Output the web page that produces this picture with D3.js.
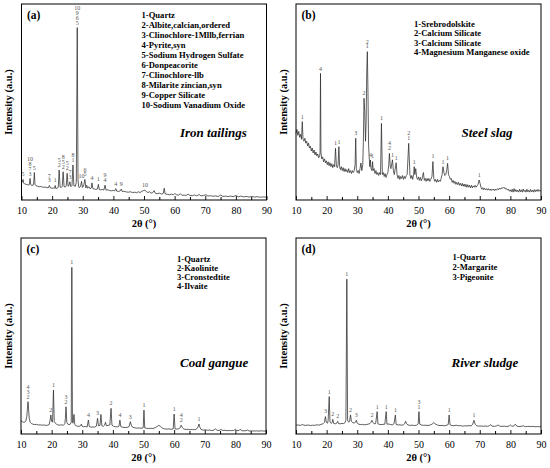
<!DOCTYPE html>
<html>
<head>
<meta charset="utf-8">
<script src="https://cdn.jsdelivr.net/npm/d3@7"></script>
<style>
body { margin: 0; background: #fff; }
text { font-family: "Liberation Serif", "Times New Roman", serif; fill: #000; }
</style>
</head>
<body>
<div class="canvas"></div>
<script>
// 2theta ticks
const majorTicks = [10, 20, 30, 40, 50, 60, 70, 80, 90];
const minorTicks = [15, 25, 35, 45, 55, 65, 75, 85];

// (a) iron tailings : [2theta, intensity]
const ironTailings = [[10,8.8],[10.3,9.2],[10.5,10.5],[10.7,8.6],[11,8.3],[11.5,8.0],[12,7.8],[12.4,7.6],[12.6,8.2],[12.8,11],[13,7.8],[13.4,7.4],[13.8,7.6],[14.0,9],[14.2,14],[14.4,8],[14.8,7.2],[15.3,7.0],[15.8,6.8],[16.3,6.9],[16.8,6.6],[17.3,6.5],[17.8,6.6],[18.3,6.3],[18.8,6.3],[19.1,7.4],[19.4,6.2],[20,6.0],[20.5,6.1],[20.8,6.0],[21.0,7.4],[21.2,5.9],[21.6,6.0],[22.0,6.4],[22.3,15.3],[22.6,6.6],[23.0,6.4],[23.3,7],[23.6,14.4],[23.9,6.8],[24.3,6.6],[24.6,7.2],[24.9,13.6],[25.2,7.0],[25.5,7.4],[25.8,9.3],[26.1,6.8],[26.5,7.5],[26.8,17.9],[27.1,7.2],[27.6,7.0],[27.9,9],[28.2,88],[28.45,10],[28.7,6.5],[29.0,6.4],[29.3,7],[29.6,9.5],[29.9,6.4],[30.2,7],[30.4,8],[30.7,10.5],[31.0,6.2],[31.3,7.5],[31.6,6.0],[32.0,6.8],[32.4,5.7],[32.8,6.2],[33.0,8.7],[33.3,5.8],[33.8,5.6],[34.3,5.4],[34.8,5.6],[35.1,8.0],[35.4,5.3],[35.9,5.2],[36.4,5.4],[36.9,5.1],[37.3,7.6],[37.6,5.0],[38.2,5.2],[38.8,4.8],[39.4,4.7],[40.0,4.9],[40.4,4.6],[40.8,5.8],[41.1,4.5],[41.7,4.4],[42.2,4.6],[42.6,5.6],[42.9,4.3],[43.5,4.5],[44.2,4.1],[45.0,4.0],[45.6,4.2],[46.3,3.8],[47.0,4.0],[47.6,3.7],[48.2,4.2],[48.7,3.8],[49.3,4.4],[49.8,4.8],[50.3,5.0],[50.8,4.3],[51.3,3.8],[51.8,4.2],[52.3,3.5],[52.8,3.7],[53.3,4.8],[53.7,3.4],[54.3,3.2],[55.0,3.5],[55.8,3.0],[56.3,3.4],[56.6,6.0],[56.9,3.1],[57.6,2.9],[58.3,2.7],[59.0,3.0],[59.6,2.6],[60.1,3.4],[60.6,2.6],[61.3,2.5],[61.9,3.2],[62.4,2.4],[63.1,2.5],[63.8,2.3],[64.4,3.0],[65.0,2.3],[65.8,2.2],[66.5,2.6],[67.2,2.1],[68.0,2.8],[68.6,2.1],[69.4,2.3],[70.2,2.7],[70.9,2.0],[71.7,2.2],[72.5,1.9],[73.3,2.1],[74.2,1.8],[75.0,2.5],[75.8,1.8],[76.7,2.0],[77.5,1.7],[78.3,2.0],[79.1,1.7],[80.0,2.3],[80.8,1.6],[81.6,2.0],[82.5,1.6],[83.4,1.8],[84.3,1.5],[85.2,1.8],[86.1,1.5],[87.0,1.7],[88.0,1.4],[89.0,1.6],[90,1.4]];
const ironPeaks = [[10.5,12,"5"],[12.8,12.5,"10,8,7,3"],[14.2,15.5,"5"],[19.1,9,"7,3"],[21.0,9,"1"],[22.3,16.8,"5,2"],[23.6,16,"8,5,2"],[24.9,15.2,"5,2"],[25.8,10.8,"7,3"],[26.8,19.4,"8,1"],[28.2,89.5,"10,9,6,5"],[29.6,11,"10"],[30.7,12,"6,5"],[33.0,10.2,"4"],[35.1,9.5,"1"],[37.3,9.1,"9,4"],[40.8,7.3,"4"],[42.6,7.1,"9"],[50.3,6.5,"10"]];
const ironLegend = ["1-Quartz", "2-Albite,calcian,ordered", "3-Clinochlore-1Mllb,ferrian", "4-Pyrite,syn", "5-Sodium Hydrogen Sulfate", "6-Donpeacorite", "7-Clinochlore-llb", "8-Milarite zincian,syn", "9-Copper Silicate", "10-Sodium Vanadium Oxide"];

// (b) steel slag
const steelSlag = [[10,34],[10.3,36],[10.6,33],[10.9,35],[11.2,32],[11.5,33.5],[11.8,31],[12.05,40],[12.3,31],[12.6,30],[12.9,31.5],[13.2,29],[13.5,30],[13.8,27.5],[14.1,29],[14.4,26.5],[14.7,27.5],[15.0,25],[15.3,26.5],[15.6,24],[15.9,25.5],[16.2,23],[16.5,24.5],[16.8,22.5],[17.1,23.5],[17.4,21.5],[17.7,22.5],[17.85,24],[18.0,64.6],[18.15,24],[18.4,21],[18.7,22],[19.0,19.5],[19.3,21],[19.6,19],[19.9,20],[20.2,18],[20.5,19.5],[20.8,17.5],[21.1,19],[21.4,17],[21.7,18.5],[22.0,16.5],[22.3,18],[22.6,17],[22.9,26.4],[23.2,17],[23.5,16.5],[23.75,18],[24.0,27.2],[24.25,17],[24.5,15.5],[24.8,17],[25.1,15],[25.4,16.5],[25.7,14.5],[26.0,16],[26.3,14.5],[26.6,15.5],[26.9,14],[27.2,16],[27.5,14],[27.8,15],[28.1,13.5],[28.4,15],[28.7,14],[29.0,15],[29.3,18],[29.5,31.5],[29.7,16],[30.0,14],[30.3,15],[30.6,13.5],[30.9,16],[31.2,18.9],[31.5,15],[31.8,18],[32.0,30],[32.2,51.9],[32.45,45],[32.7,30],[32.9,40],[33.1,65],[33.3,75.7],[33.5,55],[33.7,28],[33.9,22],[34.1,17],[34.3,20.4],[34.5,16],[34.8,15],[35.0,19.6],[35.2,15],[35.5,16],[35.8,13.5],[36.1,15],[36.4,13],[36.7,14],[37.0,12.5],[37.3,14],[37.6,13],[37.9,39.1],[38.2,13],[38.5,14],[38.8,12],[39.1,13.5],[39.4,11.5],[39.7,13],[40.0,14],[40.3,18],[40.5,23.8],[40.8,17],[41.0,16],[41.5,20.5],[41.8,15],[42.1,13],[42.4,16],[42.7,19],[43.0,13],[43.3,11],[43.6,12.5],[43.9,10.5],[44.2,12],[44.5,11],[44.8,12.5],[45.1,10.5],[45.4,12],[45.7,11],[46.0,12.5],[46.3,13],[46.8,28.9],[47.2,13],[47.5,11],[47.8,12.5],[48.1,10.5],[48.4,13],[48.6,17],[48.8,13],[49.1,16],[49.4,11.5],[49.7,10.5],[50.0,11.8],[50.3,10],[50.6,11.5],[50.9,9.8],[51.2,11],[51.6,14],[51.9,10],[52.2,11],[52.5,9.5],[52.8,11],[53.1,9.8],[53.4,11],[53.7,9.5],[54.0,10.5],[54.4,12],[54.7,19.6],[55.0,11],[55.3,9.5],[55.6,10.5],[55.9,9],[56.2,10.5],[56.5,9.2],[56.8,10],[57.1,9.5],[57.4,11],[57.7,13],[58.0,17],[58.3,14],[58.6,12.5],[58.9,13],[59.2,15],[59.5,18.7],[59.8,13],[60.1,12],[60.4,10.5],[60.7,11],[61.0,9],[61.3,10],[61.6,8.5],[61.9,9.5],[62.2,8],[62.5,9],[62.8,7.8],[63.1,9],[63.4,7.5],[63.7,8.5],[64.0,7.2],[64.3,8.5],[64.6,7],[64.9,8.2],[65.2,6.8],[65.5,8],[65.8,6.5],[66.1,7.8],[66.4,6.5],[66.7,7.5],[67.0,6.2],[67.3,7.5],[67.6,6.2],[67.9,7.2],[68.2,6.5],[68.5,7.5],[68.8,6.5],[69.1,7.2],[69.4,7.8],[69.8,10.2],[70.1,8.5],[70.4,6.5],[70.7,5.5],[71.0,6.3],[71.3,5.2],[71.6,6],[71.9,5.2],[72.2,5.8],[72.5,5],[72.8,5.8],[73.1,5],[73.4,5.6],[73.7,4.8],[74.0,5.5],[74.3,5],[74.6,5.6],[74.9,4.8],[75.2,5.5],[75.5,5],[75.8,5.8],[76.1,5.2],[76.4,6],[76.7,5.5],[77.0,6.2],[77.3,5.8],[77.6,6.5],[77.9,6],[78.2,6.3],[78.5,5.5],[78.8,5.8],[79.1,5],[79.4,5.5],[79.7,4.5],[80.0,5.2],[80.3,4.2],[80.6,5.5],[80.9,4],[81.2,5.8],[81.5,4.3],[81.8,5.3],[82.1,4.2],[82.4,5],[82.7,4],[83.0,5.5],[83.3,4.2],[83.6,5.2],[83.9,4],[84.2,5.6],[84.5,4.3],[84.8,5],[85.1,4],[85.4,5.5],[85.7,4.2],[86.0,5],[86.3,4],[86.6,5.4],[86.9,4.2],[87.2,5],[87.5,4],[87.8,5.3],[88.1,4.2],[88.4,5.2],[88.7,4.4],[89.0,5.4],[89.3,4.4],[89.6,5],[90,4.6]];
const slagPeaks = [[12.05,41.5,"1"],[18.0,66,"4"],[22.9,28,"1"],[24.0,28.8,"1"],[29.5,33,"3"],[32.2,53.5,"2"],[33.3,77.3,"2,1"],[34.3,22,"4"],[35.0,21.2,"1"],[37.9,40.7,"1"],[40.5,25.4,"4,2"],[41.5,22,"1"],[42.7,20.6,"1"],[46.8,30.5,"2,1"],[48.6,18.6,"1"],[54.7,21.2,"1"],[58.0,18.6,"1"],[59.5,20.3,"1"],[69.8,11.8,"1"]];
const slagLegend = ["1-Srebrodolskite", "2-Calcium Silicate", "3-Calcium Silicate", "4-Magnesium Manganese oxide"];

// (c) coal gangue
const coalGangue = [[10,6.8],[10.4,6.3],[10.8,6.0],[11.2,6.0],[11.6,6.8],[11.9,9],[12.1,13],[12.3,16.5],[12.5,12],[12.7,8],[13.0,6.0],[13.4,5.3],[13.9,5.0],[14.5,4.8],[15.1,4.9],[15.7,4.6],[16.3,4.7],[16.9,4.5],[17.5,4.6],[18.1,4.4],[18.7,4.5],[19.2,4.8],[19.5,7],[19.75,9.7],[20.0,6.5],[20.3,6],[20.6,22.4],[20.85,6.5],[21.2,5.5],[21.6,5.0],[22.0,4.7],[22.6,4.5],[23.2,4.7],[23.8,4.4],[24.3,5.2],[24.5,8],[24.7,13.9],[24.95,6],[25.3,5],[25.7,4.8],[26.1,5.0],[26.4,6],[26.6,85],[26.8,6],[27.0,5.5],[27.3,10],[27.55,5],[27.9,4.2],[28.4,4.0],[29.0,3.9],[29.5,4.3],[29.7,5],[29.9,4.0],[30.4,3.7],[31.0,3.8],[31.6,3.6],[32.0,7.1],[32.3,3.8],[32.8,3.5],[33.4,3.6],[34.0,3.5],[34.6,4.0],[35.0,8],[35.3,4.2],[35.8,4.4],[36.1,10],[36.4,4.2],[36.9,3.9],[37.3,4.5],[37.6,6],[37.9,4.2],[38.4,4.4],[39.0,4.6],[39.4,13.1],[39.7,4.5],[40.2,4.0],[40.8,3.7],[41.4,3.6],[42.0,4.0],[42.3,7.1],[42.6,3.8],[43.3,3.4],[44.0,3.3],[44.7,3.4],[45.3,3.8],[45.7,6.3],[46.0,4.5],[46.4,3.5],[47.1,3.2],[47.8,3.0],[48.5,3.1],[49.2,2.9],[49.9,3.2],[50.15,12.2],[50.4,3.1],[51.0,2.9],[51.7,2.8],[52.4,2.9],[53.1,2.8],[53.8,3.2],[54.4,3.8],[55.0,4.4],[55.6,3.8],[56.2,3.0],[56.9,2.6],[57.6,2.5],[58.3,2.6],[59.0,2.4],[59.7,2.6],[60.0,10.2],[60.3,2.6],[60.9,2.5],[61.5,2.7],[62.0,3.2],[62.3,4.5],[62.7,3.2],[63.2,2.5],[63.9,2.3],[64.6,2.4],[65.3,2.2],[66.0,2.3],[66.7,2.2],[67.3,2.5],[67.8,3.5],[68.1,5.1],[68.4,3.5],[68.8,2.3],[69.5,2.0],[70.2,2.1],[70.9,1.9],[71.6,2.0],[72.3,1.8],[73.0,2.0],[73.5,2.6],[74.0,1.9],[74.7,1.8],[75.3,2.3],[75.9,1.8],[76.6,1.9],[77.3,1.7],[78.0,1.8],[78.7,1.7],[79.4,1.8],[80.0,2.4],[80.5,1.7],[81.2,1.8],[81.6,2.5],[82.0,1.7],[82.8,1.6],[83.5,1.7],[84.0,2.0],[84.5,1.5],[85.3,1.6],[86.1,1.5],[86.9,1.6],[87.7,1.5],[88.5,1.6],[89.3,1.5],[90,1.5]];
const gangPeaks = [[12.3,18,"4,3,2"],[19.75,11.2,"2"],[20.6,24,"1"],[24.7,15.5,"3,2"],[26.6,86.5,"1"],[32.0,8.6,"4"],[35.0,9.5,"3"],[39.4,14.6,"2"],[42.3,8.6,"4"],[45.7,7.8,"3"],[50.15,13.7,"1"],[60.0,11.7,"1"],[62.3,6.2,"4,2"],[68.1,6.6,"1"]];
const gangLegend = ["1-Quartz", "2-Kaolinite", "3-Cronstedtite", "4-Ilvaite"];

// (d) river sludge
const riverSludge = [[10,4.5],[10.7,4.6],[11.4,4.4],[12.1,4.8],[12.6,4.5],[13.3,4.4],[14.0,4.6],[14.7,4.3],[15.4,4.5],[16.1,4.4],[16.8,4.7],[17.5,4.5],[18.2,4.9],[18.8,5.2],[19.3,6],[19.6,8.9],[19.9,6],[20.3,5.5],[20.5,7],[20.85,19.1],[21.1,6],[21.5,5.4],[21.8,5.8],[22.0,7.5],[22.3,5.4],[22.8,5.2],[23.3,5.5],[23.6,6.5],[23.9,5.3],[24.4,5.2],[25.0,5.4],[25.5,5.3],[26.0,5.8],[26.3,7],[26.6,79],[26.85,7],[27.2,6],[27.5,6.5],[27.8,9.7],[28.1,6.5],[28.5,5.8],[29.0,5.6],[29.4,6],[29.7,7],[30.0,5.5],[30.5,5.0],[31.1,4.8],[31.7,4.9],[32.3,4.7],[32.9,4.8],[33.5,5.0],[34.1,5.3],[34.5,6],[34.8,7],[35.1,6],[35.5,5.2],[36.0,5.3],[36.5,11.4],[36.75,5.2],[37.2,4.9],[37.8,4.8],[38.4,4.9],[39.0,5.0],[39.45,11.4],[39.7,5.0],[40.3,5.1],[40.9,4.8],[41.5,4.7],[42.0,5.2],[42.45,9.7],[42.7,4.9],[43.3,4.6],[43.9,4.7],[44.5,4.5],[45.1,4.7],[45.5,5.3],[45.8,6.5],[46.1,5.2],[46.6,4.6],[47.3,4.4],[48.0,4.5],[48.7,4.3],[49.4,4.5],[49.9,5.2],[50.15,11.4],[50.4,5],[51.0,4.6],[51.7,4.4],[52.4,4.5],[53.1,4.3],[53.8,4.6],[54.4,5.0],[55.0,5.8],[55.6,5.0],[56.3,4.5],[57.0,4.3],[57.7,4.4],[58.4,4.2],[59.1,4.4],[59.7,4.8],[60.0,9.7],[60.3,4.7],[60.9,4.3],[61.6,4.2],[62.3,4.5],[63.0,4.2],[63.7,4.3],[64.4,4.0],[65.1,4.2],[65.8,4.1],[66.5,4.3],[67.2,4.1],[67.7,5],[68.1,7],[68.5,5],[69.0,4.2],[69.7,4.0],[70.4,4.1],[71.1,3.9],[71.8,4.1],[72.5,3.9],[73.2,4.3],[73.6,4.8],[74.0,4.0],[74.8,3.9],[75.5,4.1],[76.0,4.6],[76.5,4.0],[77.3,3.9],[78.1,4.0],[78.9,3.8],[79.6,4.1],[80.0,4.6],[80.5,3.9],[81.2,4.2],[81.6,5],[82.1,4.0],[82.8,3.8],[83.5,3.9],[84.2,4.2],[84.9,3.7],[85.7,3.9],[86.5,3.8],[87.3,3.9],[88.1,3.7],[88.9,3.8],[89.5,3.7],[90,3.8]];
const sludgePeaks = [[19.6,10.5,"3"],[20.85,20.6,"1"],[22.0,9,"2"],[23.6,8,"2"],[26.6,80.5,"1"],[27.8,11.2,"2"],[29.7,8.5,"3"],[34.8,8.5,"2"],[36.5,12.9,"1"],[39.45,12.9,"1"],[42.45,11.2,"1"],[50.15,12.9,"3,1"],[60.0,11.2,"1"],[68.1,8.5,"1"]];
const sludgeLegend = ["1-Quartz", "2-Margarite", "3-Pigeonite"];

const panels = [
    {tag: '(a)', name: 'Iron tailings', data: ironTailings, peaks: ironPeaks, legend: ironLegend,
     left: 21.5, top: 4, legX: 141.5, legY: 17.5, legStep: 10, nameX: 180, nameY: 137},
    {tag: '(b)', name: 'Steel slag', data: steelSlag, peaks: slagPeaks, legend: slagLegend,
     left: 296, top: 4, legX: 414, legY: 27, legStep: 9.4, nameX: 461.5, nameY: 137},
    {tag: '(c)', name: 'Coal gangue', data: coalGangue, peaks: gangPeaks, legend: gangLegend,
     left: 21, top: 238, legX: 177, legY: 262, legStep: 9, nameX: 180, nameY: 367},
    {tag: '(d)', name: 'River sludge', data: riverSludge, peaks: sludgePeaks, legend: sludgeLegend,
     left: 296, top: 238, legX: 452.5, legY: 260, legStep: 10.2, nameX: 451.5, nameY: 367}
];

const graphWidth = 245;
const graphHeight = 196;

const svg = d3.select('.canvas')
    .append('svg')
    .attr('width', 550)
    .attr('height', 468);

svg.append('rect').attr('width', 550).attr('height', 468).attr('fill', '#fff');

const x = d3.scaleLinear().domain([10, 90]).range([0, graphWidth]);
const y = d3.scaleLinear().domain([0, 100]).range([graphHeight, 0]);

const line = d3.line()
    .x(d => x(d[0]))
    .y(d => y(d[1]));

panels.forEach(p => {
    const graph = svg.append('g')
        .attr('transform', `translate(${p.left}, ${p.top})`);

    // ticks point inward
    const xAxis = d3.axisBottom(x).tickValues(majorTicks).tickSizeInner(-4).tickSizeOuter(0).tickPadding(7.2);
    const xMinor = d3.axisBottom(x).tickValues(minorTicks).tickSizeInner(-3).tickSizeOuter(0).tickFormat('');

    const xAxisGroup = graph.append('g')
        .attr('transform', `translate(0, ${graphHeight})`)
        .call(xAxis);
    graph.append('g')
        .attr('transform', `translate(0, ${graphHeight})`)
        .call(xMinor)
        .select('.domain').remove();
    xAxisGroup.select('.domain').remove();
    xAxisGroup.selectAll('line').attr('stroke', '#000').attr('stroke-width', 0.9);
    xAxisGroup.selectAll('text')
        .attr('font-family', '"Liberation Serif", serif')
        .attr('font-size', 10)
        .attr('fill', '#000');

    graph.append('path')
        .datum(p.data)
        .attr('fill', 'none')
        .attr('stroke', '#2b2b2b')
        .attr('stroke-width', 0.75)
        .attr('stroke-linejoin', 'round')
        .attr('d', line);

    // phase numbers above the peaks
    p.peaks.forEach(pk => {
        const labels = pk[2].split(',');
        labels.forEach((t, i) => {
            graph.append('text')
                .attr('x', x(pk[0]))
                .attr('y', y(pk[1]) - (labels.length - 1 - i) * 4.8)
                .attr('text-anchor', 'middle')
                .style('font-size', '6px')
                .style('fill', '#555')
                .text(t);
        });
    });

    graph.append('rect')
        .attr('width', graphWidth)
        .attr('height', graphHeight)
        .attr('fill', 'none')
        .attr('stroke', '#000')
        .attr('stroke-width', 1);

    graph.append('text')
        .attr('x', 5.5)
        .attr('y', 15)
        .style('font-size', '11.5px')
        .style('font-weight', 'bold')
        .text(p.tag);

    graph.append('text')
        .attr('x', graphWidth / 2)
        .attr('y', graphHeight + 27)
        .attr('text-anchor', 'middle')
        .style('font-size', '10.5px')
        .style('font-weight', 'bold')
        .text('2θ (°)');

    graph.append('text')
        .attr('transform', 'rotate(-90)')
        .attr('x', -graphHeight / 2)
        .attr('y', -9.5)
        .attr('text-anchor', 'middle')
        .style('font-size', '10.5px')
        .style('font-weight', 'bold')
        .text('Intensity (a.u.)');

    svg.selectAll(null)
        .data(p.legend)
        .enter()
        .append('text')
        .attr('x', p.legX)
        .attr('y', (d, i) => p.legY + i * p.legStep)
        .style('font-size', '8.6px')
        .style('font-weight', 'bold')
        .text(d => d);

    svg.append('text')
        .attr('x', p.nameX)
        .attr('y', p.nameY)
        .style('font-size', '13px')
        .style('font-weight', 'bold')
        .style('font-style', 'italic')
        .text(p.name);
});
</script>
</body>
</html>
